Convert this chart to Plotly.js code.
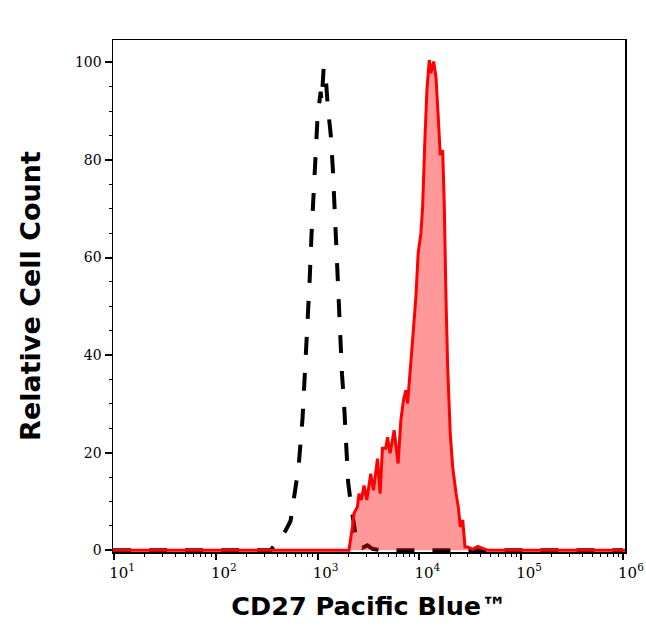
<!DOCTYPE html>
<html>
<head>
<meta charset="utf-8">
<script src="https://cdn.plot.ly/plotly-3.0.1.min.js"></script>
<style>html,body{margin:0;padding:0;background:#fff;}#chart{width:646px;height:641px;}</style>
</head>
<body>
<div id="chart"></div>
<script>
// Isotype control (black dashed)
const isoX = [9.8, 50, 150, 250, 308, 344, 377, 432, 484, 542, 581, 650, 711, 762, 834, 873, 912, 955, 1000, 1072, 1096, 1148, 1202, 1259, 1349, 1413, 1479, 1549, 1622, 1738, 1820, 1888, 1995, 2138, 2366, 2512, 2754, 3090, 3467, 4169, 10000, 100000, 1000000];
const isoY = [0, 0, 0, 0, 0, 0, 1, 2.5, 4, 6, 10, 17, 27, 38, 55, 65, 73, 81, 89, 94, 92, 99, 97, 91, 85, 78, 68, 58, 48, 36, 30, 22, 14, 9, 3, 1, 0.5, 1, 0.3, 0, 0, 0, 0];

// CD27 stained sample (red filled)
const cdX = [9.8, 20, 50, 100, 200, 500, 1000, 1500, 2000, 2032, 2198, 2280, 2460, 2553, 2692, 2858, 3041, 3327, 3540, 3873, 4111, 4335, 4677, 4864, 5152, 5649, 6180, 6577, 6982, 7362, 7656, 7943, 8570, 9247, 9727, 10350, 10765, 11324, 11858, 12503, 12972, 13804, 14555, 15311, 16032, 16943, 17579, 18239, 18967, 20091, 21232, 22909, 24099, 25235, 26669, 28054, 29854, 33420, 37411, 46989, 50582, 100000, 300000, 1000000, 1050000];
const cdY = [0, 0, 0, 0, 0, 0, 0, 0, 0, 0, 4.8, 7.6, 8.9, 11.6, 10.3, 13.3, 10.3, 15.7, 12.3, 18.8, 11.6, 20.9, 20.9, 23.2, 19.9, 24.6, 17.8, 26.7, 30.8, 32.8, 30.1, 34.9, 43, 52, 60.9, 65, 70.4, 84.1, 94.4, 100.5, 97.8, 100.2, 97, 88.9, 81, 82, 70.4, 52, 37.6, 24, 17.1, 11.7, 8.9, 4.8, 6.2, 0.7, 0.7, 0.2, 0.8, 0, 0, 0, 0, 0, 0];

const xTickVals = [10, 100, 1000, 10000, 100000, 1000000];
const xTickText = ['10<sup>1</sup>', '10<sup>2</sup>', '10<sup>3</sup>', '10<sup>4</sup>', '10<sup>5</sup>', '10<sup>6</sup>'];
const xMinorVals = [];
[1, 2, 3, 4, 5].forEach(function (p) {
  for (let d = 2; d <= 9; d++) xMinorVals.push(d * Math.pow(10, p));
});
const yTickVals = [0, 20, 40, 60, 80, 100];

const traces = [
  {
    x: isoX, y: isoY, type: 'scatter', mode: 'lines',
    line: {color: 'black', width: 4, dash: '18px,18px'},
    hoverinfo: 'skip'
  },
  {
    x: cdX, y: cdY, type: 'scatter', mode: 'lines',
    fill: 'tozeroy', fillcolor: 'rgba(255,0,0,0.4)',
    line: {color: 'rgb(255,0,0)', width: 3},
    hoverinfo: 'skip'
  }
];

const layout = {
  width: 646, height: 641,
  margin: {l: 113, r: 21, t: 40, b: 89},
  paper_bgcolor: 'white', plot_bgcolor: 'white',
  showlegend: false,
  xaxis: {
    type: 'log', range: [0.99, 6.02],
    tickmode: 'array', tickvals: xTickVals, ticktext: xTickText,
    ticks: 'outside', ticklen: 6, tickwidth: 2, tickcolor: 'black',
    minor: {tickmode: 'array', tickvals: xMinorVals, ticks: 'outside', ticklen: 3, tickwidth: 1, tickcolor: 'black'},
    showline: true, linecolor: 'black', linewidth: 1.5, mirror: true,
    showgrid: false, zeroline: false,
    ticklabelshift: 8, ticklabeloverflow: 'allow',
    tickfont: {family: 'DejaVu Serif', size: 15, color: 'black'},
    title: {text: 'CD27 Pacific Blue™', font: {family: 'DejaVu Sans', size: 25.5, color: 'black', weight: 'bold'}, standoff: 16}
  },
  yaxis: {
    range: [-0.35, 104.6],
    tickmode: 'array', tickvals: yTickVals,
    ticks: 'outside', ticklen: 7, tickwidth: 2, tickcolor: 'black',
    minor: {dtick: 5, ticks: 'outside', ticklen: 3, tickwidth: 1, tickcolor: 'black'},
    showline: true, linecolor: 'black', linewidth: 1.5, mirror: true,
    showgrid: false, zeroline: false,
    tickfont: {family: 'DejaVu Serif', size: 14, color: 'black'},
    title: {text: 'Relative Cell Count', font: {family: 'DejaVu Sans', size: 27, color: 'black', weight: 'bold'}, standoff: 26}
  }
};

Plotly.newPlot('chart', traces, layout, {staticPlot: true, displayModeBar: false});
</script>
</body>
</html>
